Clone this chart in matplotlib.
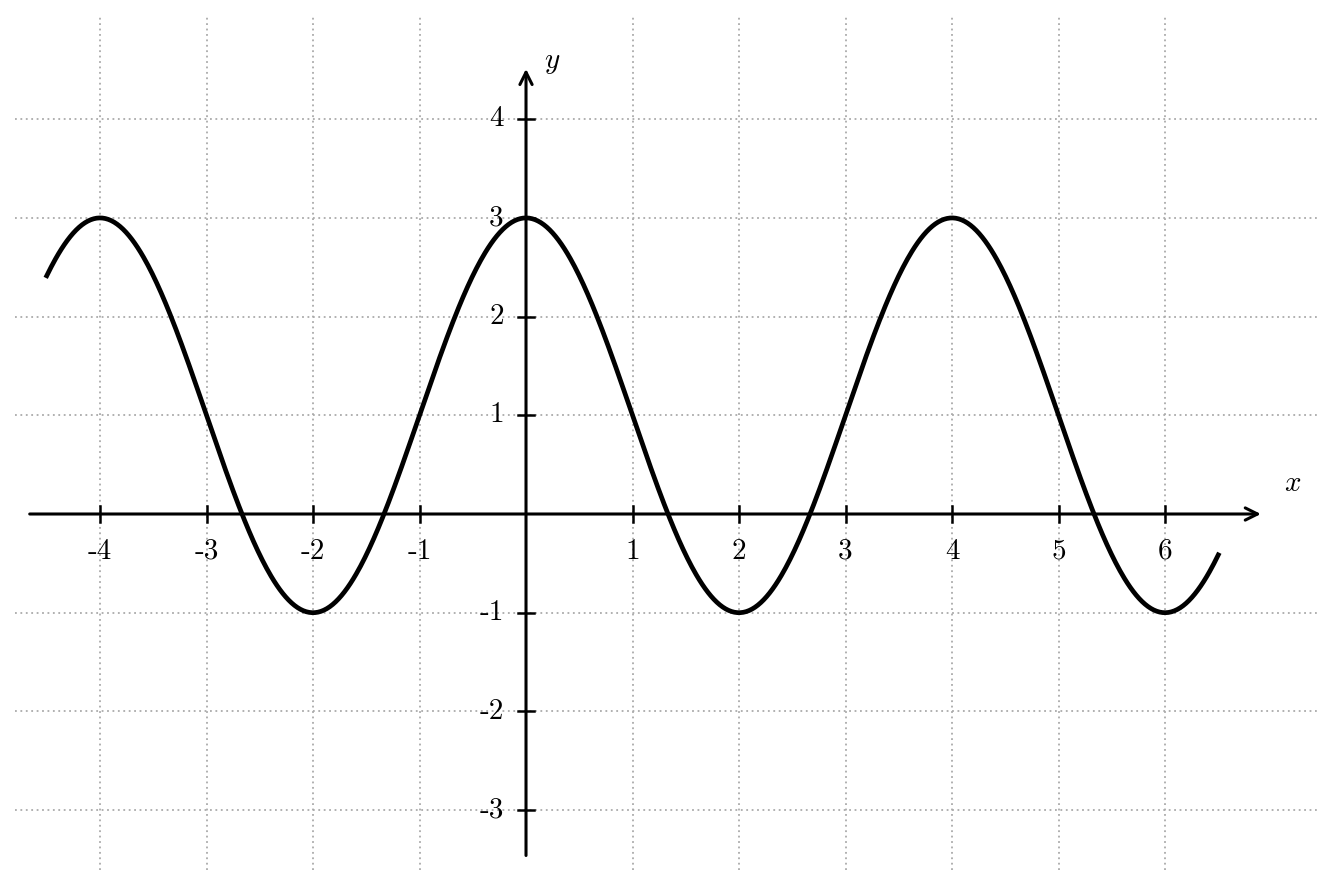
import numpy as np
from matplotlib import pyplot as plt

plt.rcParams['mathtext.fontset'] = 'cm'
plt.rcParams['axes.unicode_minus'] = False

# curve: peaks at 3, troughs at -1, period 4
amplitude = 2.0
offset = 1.0
period = 4.0
x_start, x_end = -4.5, 6.5

x_ticks = [-4, -3, -2, -1, 1, 2, 3, 4, 5, 6]
y_ticks = [-3, -2, -1, 1, 2, 3, 4]
x_tick_labels = ['-4', '-3', '-2', '-1', '1', '2', '3', '4', '5', '6']
y_tick_labels = ['-3', '-2', '-1', '1', '2', '3', '4']

x = np.linspace(x_start, x_end, 800)
y = offset + amplitude * np.cos(2 * np.pi * x / period)

fig = plt.figure(figsize=(13.35, 8.85), dpi=100)
ax = fig.add_axes([0, 0, 1, 1])
ax.set_xlim(-4.939, 7.596)
ax.set_ylim(-3.759, 5.208)
ax.axis('off')

grid_kw = dict(color='#aaaaaa', lw=1.3, ls=(0, (1, 2)), zorder=1)
for gx in x_ticks:
    ax.plot([gx, gx], [-3.607, 5.056], **grid_kw)
for gy in y_ticks:
    ax.plot([-4.80, 7.455], [gy, gy], **grid_kw)

# axes with arrows
ax.annotate('', xy=(6.90, 0), xytext=(-4.66, 0),
            arrowprops=dict(arrowstyle='->', lw=2.2, color='black',
                            mutation_scale=22, shrinkA=0, shrinkB=0), zorder=3)
ax.annotate('', xy=(0, 4.51), xytext=(0, -3.46),
            arrowprops=dict(arrowstyle='->', lw=2.2, color='black',
                            mutation_scale=22, shrinkA=0, shrinkB=0), zorder=3)

tx = 8 / 106.5
ty = 8 / 98.7
for t, lab in zip(x_ticks, x_tick_labels):
    ax.plot([t, t], [-ty, ty], color='black', lw=1.8, zorder=3)
    ax.text(t, -0.38, lab, ha='center', va='center', fontsize=21,
            family='cmr10')
for t, lab in zip(y_ticks, y_tick_labels):
    ax.plot([-tx, tx], [t, t], color='black', lw=1.8, zorder=3)
    ax.text(-0.21, t, lab, ha='right', va='center', fontsize=21,
            family='cmr10')

ax.text(7.20, 0.31, '$x$', ha='center', va='center', fontsize=21)
ax.text(0.25, 4.58, '$y$', ha='center', va='center', fontsize=21)

ax.plot(x, y, color='black', lw=3.4, zorder=4)

fig.savefig('out.png', dpi=100)
